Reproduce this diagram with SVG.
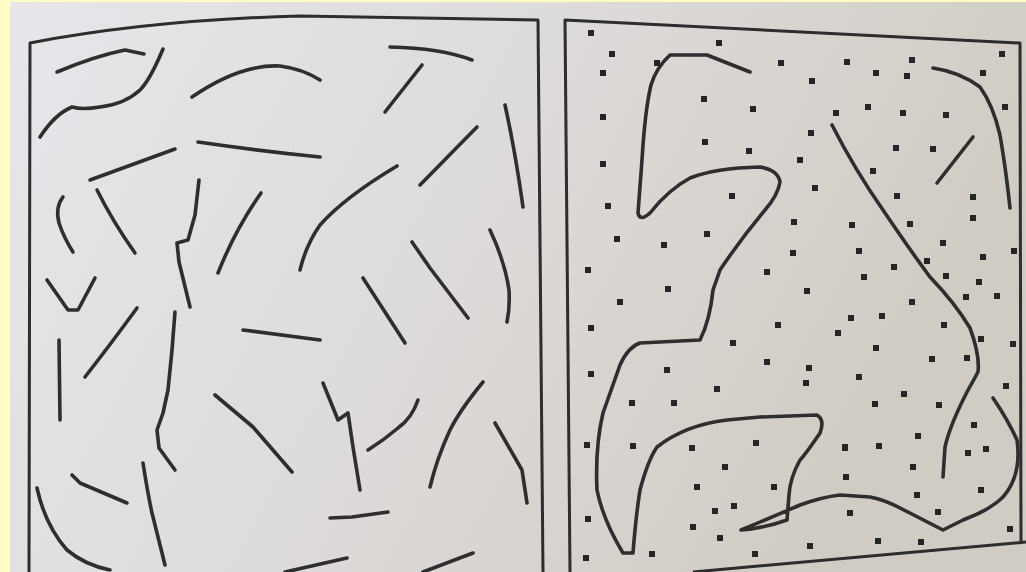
<svg xmlns="http://www.w3.org/2000/svg" width="1026" height="572" viewBox="0 0 1026 572">
<defs>
<linearGradient id="paper" x1="0" y1="0" x2="1" y2="0.3">
<stop offset="0" stop-color="#e9e6ec"/>
<stop offset="0.5" stop-color="#dedbdb"/>
<stop offset="1" stop-color="#d0ccc3"/>
</linearGradient>
<style>
.frame{fill:none;stroke:#2e2c2c;stroke-width:3;stroke-linejoin:round}
.c{fill:none;stroke:#2f2d2d;stroke-width:3.6;stroke-linecap:round;stroke-linejoin:round}
.d{fill:#262424}
</style>
</defs>
<rect width="1026" height="572" fill="url(#paper)"/>
<rect x="0" y="0" width="10" height="572" fill="#fdfdc4"/>
<rect x="0" y="0" width="1026" height="2" fill="#fdfdc4"/>

<g id="left-panel">
<path class="frame" d="M29,572 L30,43 Q150,20 300,16 L538,20 L543,572"/>
<g id="left-strokes">
<path class="c" d="M57,72 Q95,56 125,50 L144,54"/>
<path class="c" d="M163,49 Q150,80 140,90 Q125,104 100,107 Q82,110 72,107 Q55,114 40,137"/>
<path class="c" d="M192,97 Q240,64 280,66 Q303,69 320,80"/>
<path class="c" d="M198,142 Q260,151 320,157"/>
<path class="c" d="M90,180 L175,149"/>
<path class="c" d="M390,47 Q440,48 472,60"/>
<path class="c" d="M422,65 L385,112"/>
<path class="c" d="M477,127 L420,185"/>
<path class="c" d="M397,166 Q345,197 320,225 Q306,245 300,270"/>
<path class="c" d="M505,105 Q515,150 523,207"/>
<path class="c" d="M63,197 Q55,207 59,223 Q64,238 73,252"/>
<path class="c" d="M97,190 Q113,222 135,253"/>
<path class="c" d="M47,280 L68,310 L78,310 L95,278"/>
<path class="c" d="M137,308 Q110,345 85,377"/>
<path class="c" d="M59,340 L60,420"/>
<path class="c" d="M199,180 L195,215 L188,240 L177,243 L179,262 L190,307"/>
<path class="c" d="M261,193 Q235,230 218,273"/>
<path class="c" d="M175,312 L172,350 L168,390 L163,413 L157,430 L159,448 L175,470"/>
<path class="c" d="M243,330 L320,340"/>
<path class="c" d="M363,278 L405,343"/>
<path class="c" d="M412,242 L430,268 L468,318"/>
<path class="c" d="M490,230 Q505,262 509,290 Q510,308 507,322"/>
<path class="c" d="M215,395 L253,427 L292,472"/>
<path class="c" d="M323,383 L338,420 L348,413 L353,447 L360,490"/>
<path class="c" d="M483,382 Q460,410 450,430 Q437,458 430,487"/>
<path class="c" d="M418,400 Q412,418 398,428 Q384,440 368,450"/>
<path class="c" d="M495,423 L522,470 L527,503"/>
<path class="c" d="M330,518 L352,517 L388,512"/>
<path class="c" d="M347,558 L285,572"/>
<path class="c" d="M473,553 L423,572"/>
<path class="c" d="M72,475 L80,483 L127,503"/>
<path class="c" d="M37,488 Q45,525 67,550 Q85,565 110,570"/>
<path class="c" d="M143,463 Q148,495 152,513 L165,565"/>
</g>
</g>

<g id="right-panel">
<path class="frame" d="M570,572 L565,20 L1020,43 L1021,542"/>
<path class="frame" d="M693,572 L1026,542"/>
<g id="right-curves">
<path class="c" d="M750,72 L707,55 L670,55 Q656,68 651,85 Q645,110 642,160 L638,213 Q640,222 650,213 Q668,190 690,178 Q715,168 760,167 Q778,170 780,182 Q778,195 765,210 Q740,240 720,270 L713,290 Q710,320 700,340 L640,343 Q628,347 620,365 L603,413 Q595,447 597,490 Q603,520 623,553 L633,553 Q636,515 640,490 Q648,460 657,447 Q685,425 727,420 L760,417 L817,415 Q825,420 820,433 Q805,455 800,460 Q790,478 789,495 L787,520 Q765,528 741,530 Q770,518 800,505 Q822,497 840,495 L870,497 Q885,500 900,508 L943,530 L963,520 Q990,510 1003,497 Q1022,475 1017,440 Q1008,420 993,398"/>
<path class="c" d="M933,68 Q960,72 980,87 Q993,105 1000,135 Q1006,170 1010,208"/>
<path class="c" d="M973,137 L937,183"/>
<path class="c" d="M832,125 Q855,170 883,210 Q910,250 930,277 Q955,303 970,328 Q980,355 978,372 L967,392 Q950,425 945,447 L943,477"/>
</g>
<g id="dots" class="d">
<rect x="588" y="30" width="6" height="6"/><rect x="609" y="51" width="6" height="6"/><rect x="600" y="70" width="6" height="6"/><rect x="654" y="60" width="6" height="6"/><rect x="716" y="40" width="6" height="6"/><rect x="778" y="60" width="6" height="6"/><rect x="701" y="96" width="6" height="6"/><rect x="750" y="106" width="6" height="6"/><rect x="600" y="114" width="6" height="6"/><rect x="702" y="139" width="6" height="6"/><rect x="746" y="148" width="6" height="6"/><rect x="600" y="161" width="6" height="6"/><rect x="729" y="193" width="6" height="6"/><rect x="797" y="157" width="6" height="6"/>
<rect x="844" y="59" width="6" height="6"/><rect x="909" y="57" width="6" height="6"/><rect x="999" y="51" width="6" height="6"/><rect x="809" y="78" width="6" height="6"/><rect x="873" y="70" width="6" height="6"/><rect x="904" y="73" width="6" height="6"/><rect x="980" y="70" width="6" height="6"/><rect x="833" y="110" width="6" height="6"/><rect x="865" y="104" width="6" height="6"/><rect x="900" y="110" width="6" height="6"/><rect x="943" y="112" width="6" height="6"/><rect x="1002" y="104" width="6" height="6"/><rect x="808" y="130" width="6" height="6"/><rect x="893" y="145" width="6" height="6"/><rect x="930" y="146" width="6" height="6"/><rect x="870" y="168" width="6" height="6"/><rect x="812" y="185" width="6" height="6"/><rect x="894" y="193" width="6" height="6"/><rect x="970" y="194" width="6" height="6"/>
<rect x="605" y="203" width="6" height="6"/><rect x="791" y="219" width="6" height="6"/><rect x="614" y="236" width="6" height="6"/><rect x="661" y="242" width="6" height="6"/><rect x="704" y="231" width="6" height="6"/><rect x="790" y="250" width="6" height="6"/><rect x="585" y="267" width="6" height="6"/><rect x="764" y="269" width="6" height="6"/><rect x="665" y="286" width="6" height="6"/><rect x="617" y="299" width="6" height="6"/><rect x="588" y="325" width="6" height="6"/><rect x="775" y="322" width="6" height="6"/><rect x="730" y="340" width="6" height="6"/><rect x="764" y="359" width="6" height="6"/><rect x="588" y="371" width="6" height="6"/><rect x="664" y="367" width="6" height="6"/><rect x="714" y="386" width="6" height="6"/>
<rect x="849" y="222" width="6" height="6"/><rect x="907" y="221" width="6" height="6"/><rect x="970" y="215" width="6" height="6"/><rect x="856" y="248" width="6" height="6"/><rect x="940" y="240" width="6" height="6"/><rect x="1011" y="248" width="6" height="6"/><rect x="980" y="254" width="6" height="6"/><rect x="924" y="258" width="6" height="6"/><rect x="891" y="264" width="6" height="6"/><rect x="943" y="273" width="6" height="6"/><rect x="861" y="274" width="6" height="6"/><rect x="976" y="279" width="6" height="6"/><rect x="804" y="288" width="6" height="6"/><rect x="963" y="294" width="6" height="6"/><rect x="994" y="293" width="6" height="6"/><rect x="909" y="299" width="6" height="6"/><rect x="848" y="315" width="6" height="6"/><rect x="879" y="313" width="6" height="6"/><rect x="941" y="322" width="6" height="6"/><rect x="835" y="330" width="6" height="6"/><rect x="978" y="336" width="6" height="6"/><rect x="1010" y="341" width="6" height="6"/><rect x="873" y="345" width="6" height="6"/><rect x="929" y="356" width="6" height="6"/><rect x="964" y="355" width="6" height="6"/><rect x="806" y="365" width="6" height="6"/><rect x="856" y="374" width="6" height="6"/><rect x="803" y="380" width="6" height="6"/><rect x="1003" y="383" width="6" height="6"/>
<rect x="629" y="400" width="6" height="6"/><rect x="671" y="400" width="6" height="6"/><rect x="584" y="442" width="6" height="6"/><rect x="630" y="443" width="6" height="6"/><rect x="689" y="445" width="6" height="6"/><rect x="753" y="440" width="6" height="6"/><rect x="722" y="464" width="6" height="6"/><rect x="694" y="484" width="6" height="6"/><rect x="771" y="484" width="6" height="6"/><rect x="731" y="503" width="6" height="6"/><rect x="712" y="508" width="6" height="6"/><rect x="690" y="524" width="6" height="6"/><rect x="585" y="516" width="6" height="6"/><rect x="717" y="535" width="6" height="6"/><rect x="583" y="555" width="6" height="6"/><rect x="649" y="551" width="6" height="6"/><rect x="752" y="551" width="6" height="6"/>
<rect x="901" y="391" width="6" height="6"/><rect x="872" y="401" width="6" height="6"/><rect x="936" y="402" width="6" height="6"/><rect x="971" y="422" width="6" height="6"/><rect x="915" y="433" width="6" height="6"/><rect x="842" y="444" width="6" height="7"/><rect x="876" y="443" width="6" height="6"/><rect x="965" y="450" width="6" height="6"/><rect x="983" y="446" width="6" height="6"/><rect x="910" y="464" width="6" height="6"/><rect x="843" y="474" width="6" height="6"/><rect x="978" y="487" width="6" height="6"/><rect x="914" y="492" width="6" height="6"/><rect x="847" y="510" width="6" height="6"/><rect x="935" y="509" width="6" height="6"/><rect x="1007" y="526" width="6" height="6"/><rect x="807" y="543" width="6" height="6"/><rect x="875" y="538" width="6" height="6"/><rect x="918" y="539" width="6" height="6"/>
</g>
</g>
</svg>
